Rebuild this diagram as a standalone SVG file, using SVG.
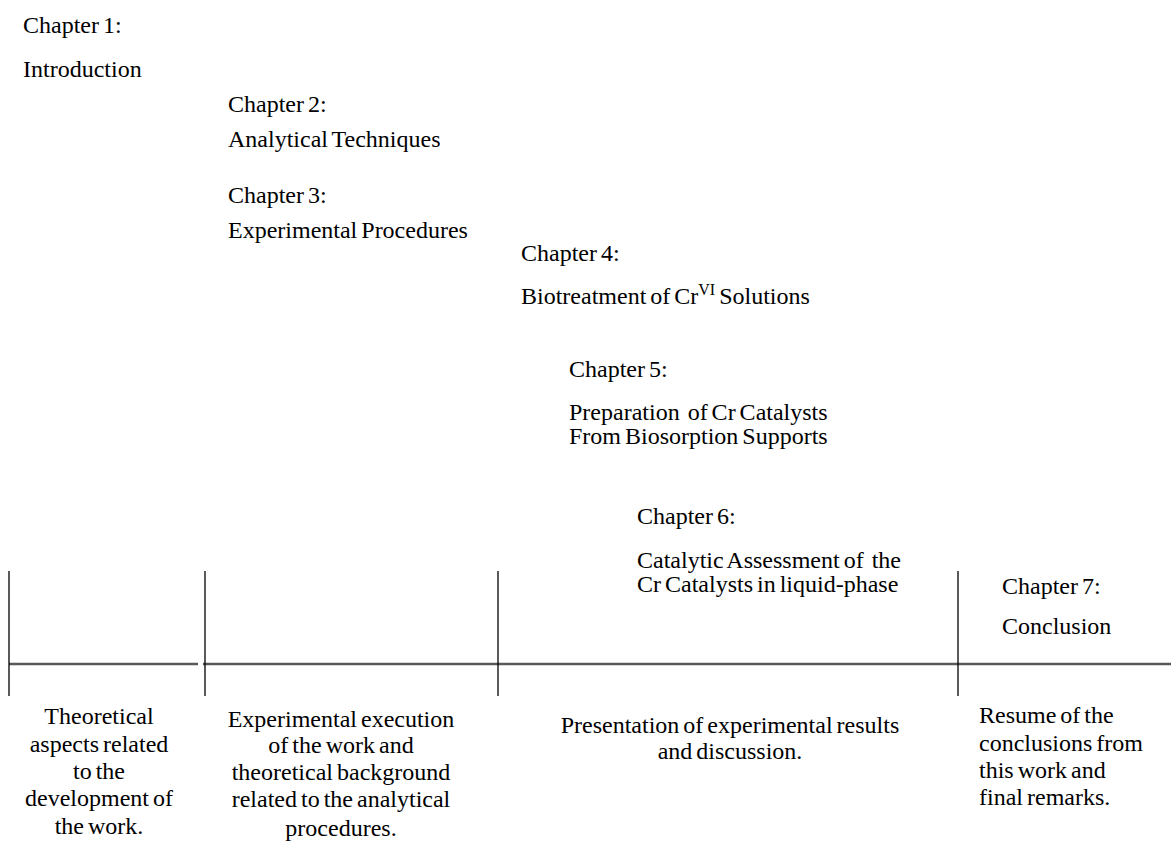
<svg xmlns="http://www.w3.org/2000/svg" width="1171" height="845" viewBox="0 0 1171 845">
<style>
text { font-family: "Liberation Serif", serif; font-size: 24px; fill: #000; word-spacing: -2px; }
.c { text-anchor: middle; }
.v { stroke: #000; stroke-width: 1.3; }
.h { stroke: #595959; stroke-width: 2.5; }
</style>
<rect width="1171" height="845" fill="#fff"/>
<g id="connectors">
<line class="h" x1="9" y1="664" x2="198" y2="664"/>
<line class="h" x1="203" y1="664" x2="1171" y2="664"/>
<line class="v" x1="9" y1="571" x2="9" y2="696"/>
<line class="v" x1="205" y1="571" x2="205" y2="696"/>
<line class="v" x1="498" y1="571" x2="498" y2="696"/>
<line class="v" x1="958" y1="571" x2="958" y2="696"/>
</g>
<g id="ch1">
<text x="23" y="33">Chapter 1:</text>
<text x="23" y="77">Introduction</text>
</g>
<g id="ch2">
<text x="228" y="112">Chapter 2:</text>
<text x="228" y="147">Analytical Techniques</text>
</g>
<g id="ch3">
<text x="228" y="203">Chapter 3:</text>
<text x="228" y="238">Experimental Procedures</text>
</g>
<g id="ch4">
<text x="521" y="261">Chapter 4:</text>
<text x="521" y="304">Biotreatment of Cr<tspan font-size="16" dy="-9">VI</tspan><tspan dy="9"> Solutions</tspan></text>
</g>
<g id="ch5">
<text x="569" y="377">Chapter 5:</text>
<text x="569" y="420" xml:space="preserve">Preparation  of Cr Catalysts</text>
<text x="569" y="444">From Biosorption Supports</text>
</g>
<g id="ch6">
<text x="637" y="524">Chapter 6:</text>
<text x="637" y="568" xml:space="preserve">Catalytic Assessment of  the</text>
<text x="637" y="592">Cr Catalysts in liquid-phase</text>
</g>
<g id="ch7">
<text x="1002" y="594">Chapter 7:</text>
<text x="1002" y="634">Conclusion</text>
</g>
<g id="desc1">
<text class="c" x="99" y="724">Theoretical</text>
<text class="c" x="99" y="752">aspects related</text>
<text class="c" x="99" y="779">to the</text>
<text class="c" x="99" y="806">development of</text>
<text class="c" x="99" y="834">the work.</text>
</g>
<g id="desc2">
<text class="c" x="341" y="727">Experimental execution</text>
<text class="c" x="341" y="753">of the work and</text>
<text class="c" x="341" y="780">theoretical background</text>
<text class="c" x="341" y="807">related to the analytical</text>
<text class="c" x="341" y="836">procedures.</text>
</g>
<g id="desc3">
<text class="c" x="730" y="733">Presentation of experimental results</text>
<text class="c" x="730" y="759">and discussion.</text>
</g>
<g id="desc4">
<text x="979" y="723">Resume of the</text>
<text x="979" y="751">conclusions from</text>
<text x="979" y="778">this work and</text>
<text x="979" y="805">final remarks.</text>
</g>
</svg>
